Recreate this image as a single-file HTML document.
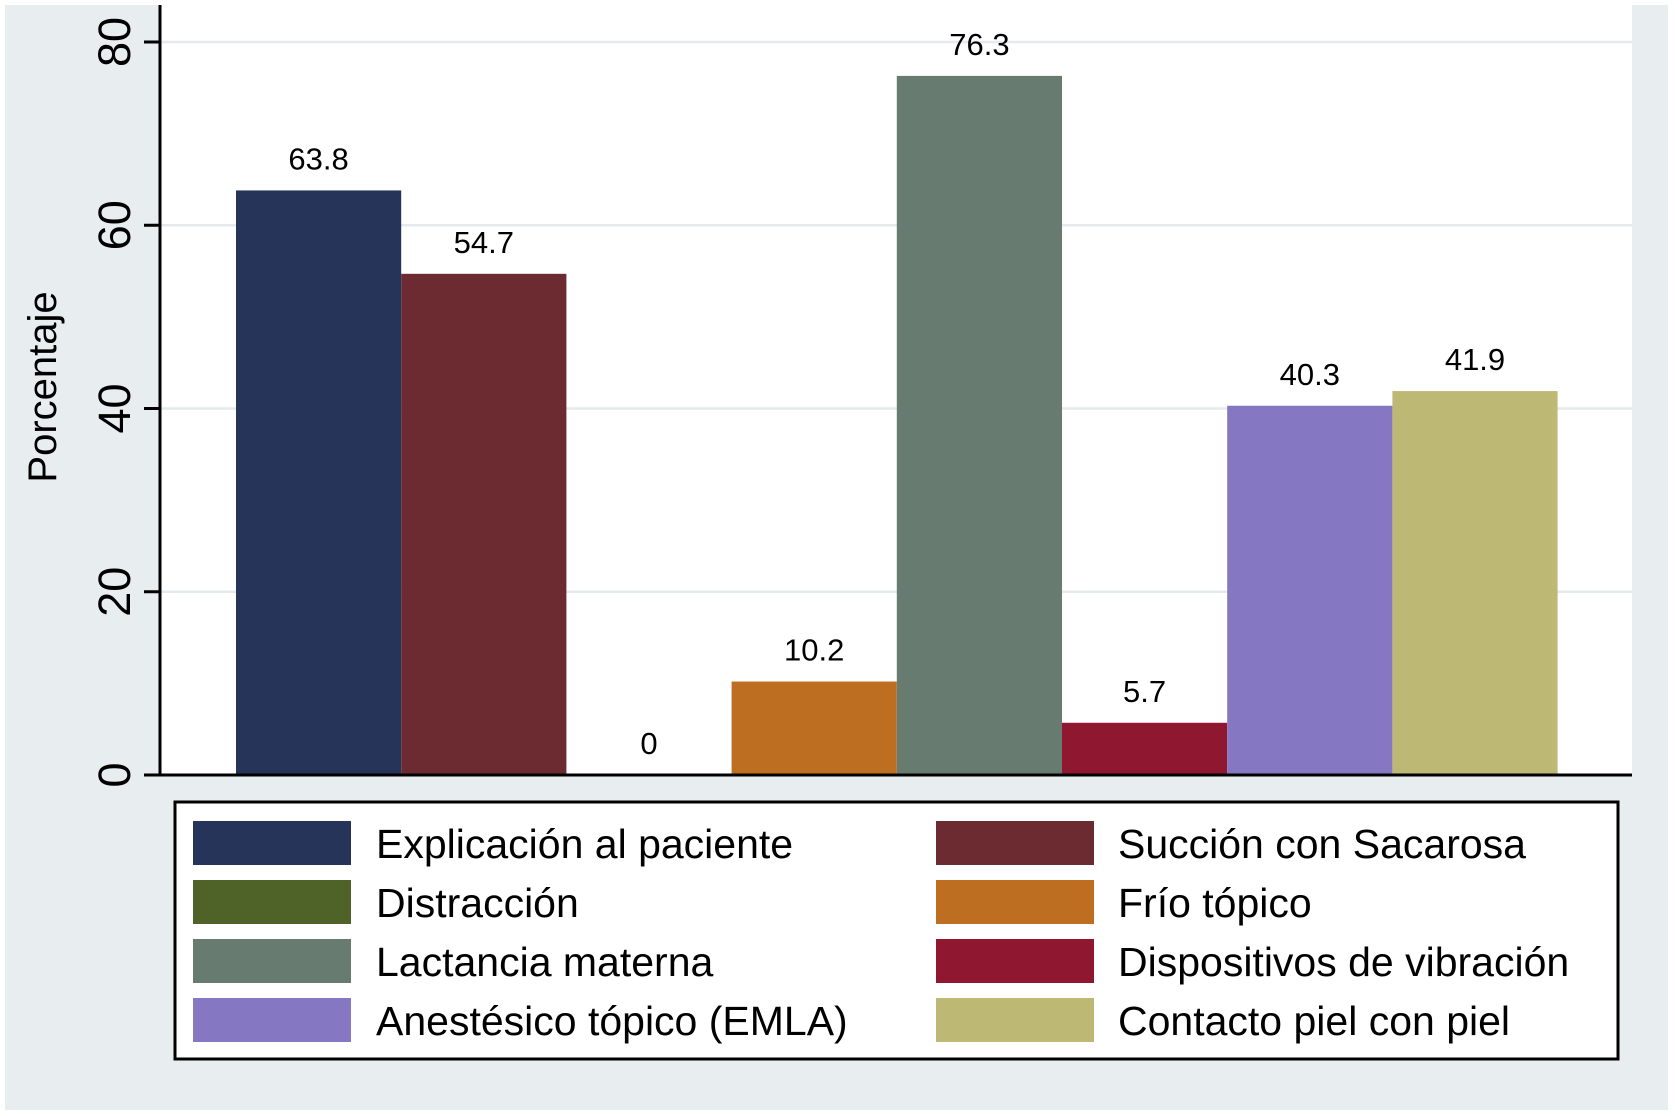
<!DOCTYPE html>
<html><head><meta charset="utf-8"><style>
html,body{margin:0;padding:0;background:#fff;}
svg{display:block;font-family:"Liberation Sans",Arial,sans-serif;}
</style></head><body>
<svg id="chart" width="1675" height="1116" viewBox="0 0 1675 1116" xmlns="http://www.w3.org/2000/svg">
<rect x="5" y="5" width="1663" height="1105" fill="#e8edf0"/>
<rect x="160" y="5" width="1472" height="770" fill="#ffffff"/>
<g id="grid"></g>
<g id="bars"></g>
<g id="axis"></g>
<text transform="translate(56,387) rotate(-90)" text-anchor="middle" font-size="40" fill="#000">Porcentaje</text>
<rect x="175" y="802" width="1443" height="257" fill="#fff" stroke="#000" stroke-width="3"/>
<g id="legend"></g>
</svg>
<script>
const categories = ["Explicación al paciente","Succión con Sacarosa","Distracción","Frío tópico","Lactancia materna","Dispositivos de vibración","Anestésico tópico (EMLA)","Contacto piel con piel"];
const values = [63.8, 54.7, 0, 10.2, 76.3, 5.7, 40.3, 41.9];
const valueLabels = ["63.8","54.7","0","10.2","76.3","5.7","40.3","41.9"];
const colors = ["#26345a","#6b2b30","#4f6228","#bd6e20","#677b70","#8f1730","#8577c1","#bdb873"];
const yTicks = [0, 20, 40, 60, 80];
const legendOrder = [0,1,2,3,4,5,6,7];

const NS = "http://www.w3.org/2000/svg";
const y0 = 775, pxPerUnit = 9.1625;
const x0 = 236, slot = 165.2;
function yScale(v){ return y0 - v*pxPerUnit; }
function xScale(i){ return x0 + i*slot; }
function mk(tag, attrs, parent){ const e=document.createElementNS(NS,tag); for(const k in attrs) e.setAttribute(k,attrs[k]); parent.appendChild(e); return e; }

const grid = document.getElementById('grid');
const axis = document.getElementById('axis');
yTicks.forEach(t=>{
  const y = yScale(t);
  if(t>0){
    const g = mk('line',{x1:160,x2:1632,y1:y,y2:y,stroke:'#e4eaee','stroke-width':2.5},grid);
    
    
  }
  const tk = mk('line',{x1:144,x2:160,y1:y,y2:y,stroke:'#000','stroke-width':3},axis);
  
  
  const lb = mk('text',{transform:'translate(130,'+y+') rotate(-90)','text-anchor':'middle','font-size':45,fill:'#000'},axis);
  lb.textContent = t;
  
  
});
const ya = mk('line',{x1:160,x2:160,y1:5,y2:776.5,stroke:'#000','stroke-width':3},axis);


const xa = mk('line',{x1:158.5,x2:1632,y1:775,y2:775,stroke:'#000','stroke-width':3},axis);



const bars = document.getElementById('bars');
values.forEach((v,i)=>{
  const x = xScale(i), y = yScale(v);
  if(v>0){
    const r = mk('rect',{x:x,y:y,width:slot,height:y0-y,fill:colors[i]},bars);
    
    
  }
  const t = mk('text',{x:x+slot/2,y:y-21,'text-anchor':'middle','font-size':31,fill:'#000'},bars);
  t.textContent = valueLabels[i];
  
  
});

const legend = document.getElementById('legend');
const rowY = [821, 880, 939, 998];
legendOrder.forEach((ci,k)=>{
  const col = k%2, row = Math.floor(k/2);
  const sx = col===0 ? 193 : 936;
  const tx = col===0 ? 376 : 1118;
  const sw = mk('rect',{x:sx,y:rowY[row],width:158,height:44,fill:colors[ci]},legend);
  
  
  const t = mk('text',{x:tx,y:rowY[row]+37,'font-size':41,fill:'#000'},legend);
  t.textContent = categories[ci];
  
  
});
</script>
</body></html>
